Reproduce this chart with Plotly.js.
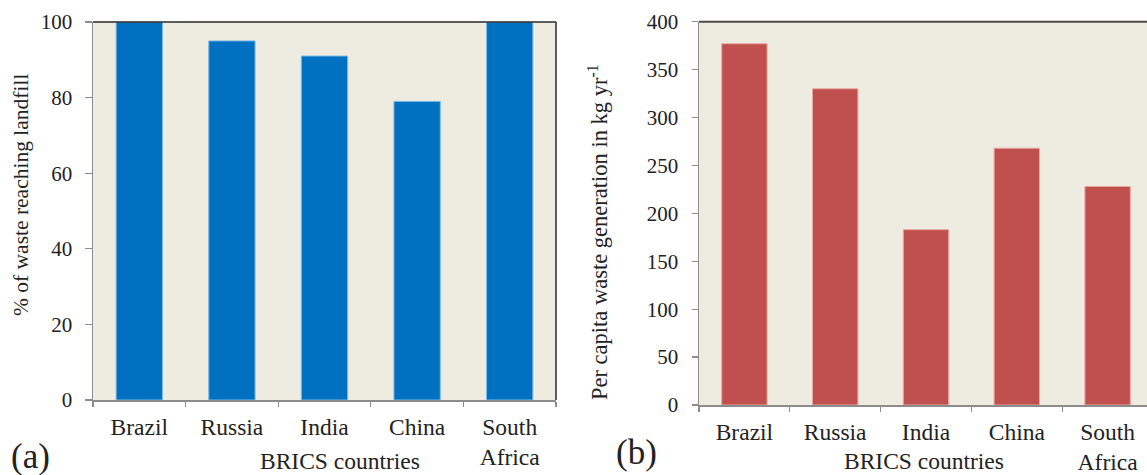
<!DOCTYPE html>
<html>
<head>
<meta charset="utf-8">
<script src="https://cdn.plot.ly/plotly-3.0.1.min.js"></script>
<style>
  html, body { margin: 0; padding: 0; background: #ffffff; overflow: hidden; width: 1147px; height: 475px; }
  #chart { width: 1160px; height: 475px; }
</style>
</head>
<body>
<div id="chart"></div>
<script>
// ---- data ----
const countries = ["Brazil", "Russia", "India", "China", "South Africa"];
const tickLabels = ["Brazil", "Russia", "India", "China", "South<br>Africa"];
const landfillPercent = [100, 95, 91, 79, 100];
const perCapitaWaste = [377, 330, 183, 268, 228];
const yTicksA = [0, 20, 40, 60, 80, 100];
const yTicksB = [0, 50, 100, 150, 200, 250, 300, 350, 400];

// ---- layout helpers ----
const W = 1160, H = 475;
const px = v => v / W;
const py = v => 1 - v / H;
const serif = "'Liberation Serif', 'Times New Roman', serif";
const txt = "#222222";

const traces = [
  {
    type: "bar", x: countries, y: landfillPercent, xaxis: "x", yaxis: "y",
    marker: { color: "#0070C0", line: { color: "#7fb8e6", width: 1 } },
    width: 0.5, hoverinfo: "x+y", showlegend: false
  },
  {
    type: "bar", x: countries, y: perCapitaWaste, xaxis: "x2", yaxis: "y2",
    marker: { color: "#C0504D", line: { color: "#eaa8a2", width: 1 } },
    width: 0.5, hoverinfo: "x+y", showlegend: false
  }
];

const xCommon = {
  type: "category", range: [-0.5, 4.5], ticks: "outside", tickson: "boundaries",
  ticklen: 5, tickcolor: "#8c8c8c", tickwidth: 1.3,
  showline: true, linecolor: "#8c8c8c", linewidth: 1.5,
  showgrid: false, zeroline: false, fixedrange: true,
  tickmode: "array", tickvals: countries, ticktext: tickLabels,
  tickfont: { family: serif, size: 23.5, color: txt }
};
const yCommon = {
  ticks: "outside", ticklen: 7, tickcolor: "#8c8c8c", tickwidth: 1.3,
  showline: true, linecolor: "#8c8c8c", linewidth: 1.5,
  showgrid: false, zeroline: false, fixedrange: true,
  tickfont: { family: serif, size: 21, color: txt },
  tickmode: "array"
};

const layout = {
  width: W, height: H,
  margin: { l: 0, r: 0, t: 0, b: 0, pad: 0 },
  paper_bgcolor: "#ffffff",
  plot_bgcolor: "#EEECE1",
  bargap: 0.5,
  showlegend: false,
  xaxis: Object.assign({}, xCommon, { domain: [px(93), px(556)], anchor: "y", ticklabelstandoff: 5 }),
  yaxis: Object.assign({}, yCommon, { domain: [py(400), py(22)], anchor: "x", range: [0, 100],
    tickvals: yTicksA, ticktext: yTicksA.map(String), ticklabelstandoff: 8 }),
  xaxis2: Object.assign({}, xCommon, { domain: [px(699), px(1153)], anchor: "y2", ticklabelstandoff: 5 }),
  yaxis2: Object.assign({}, yCommon, { domain: [py(405), py(21.7)], anchor: "x2", range: [0, 400], ticklen: 6,
    tickvals: yTicksB, ticktext: yTicksB.map(String), ticklabelstandoff: 9 }),
  shapes: [
    { type: "line", xref: "x domain", yref: "y domain", x0: 0, x1: 1, y0: 1, y1: 1, line: { color: "#2a2a2a", width: 1.5 } },
    { type: "line", xref: "x domain", yref: "y domain", x0: 1, x1: 1, y0: 0, y1: 1, line: { color: "#2a2a2a", width: 1.5 } },
    { type: "line", xref: "x2 domain", yref: "y2 domain", x0: 0, x1: 1, y0: 1, y1: 1, line: { color: "#4a4a4a", width: 2 } },
    { type: "line", xref: "x2 domain", yref: "y2 domain", x0: 1, x1: 1, y0: 0, y1: 1, line: { color: "#4a4a4a", width: 2 } }
  ],
  annotations: [
    { xref: "paper", yref: "paper", x: px(21), y: py(195), xanchor: "center", yanchor: "middle",
      text: "% of waste reaching landfill", textangle: -90, showarrow: false,
      font: { family: serif, size: 21.5, color: txt } },
    { xref: "paper", yref: "paper", x: px(598), y: py(232), xanchor: "center", yanchor: "middle",
      text: "Per capita waste generation in kg yr<sup>-1</sup>", textangle: -90, showarrow: false,
      font: { family: serif, size: 22.5, color: txt } },
    { xref: "paper", yref: "paper", x: px(340), y: py(461), xanchor: "center", yanchor: "middle",
      text: "BRICS countries", showarrow: false, font: { family: serif, size: 23.5, color: txt } },
    { xref: "paper", yref: "paper", x: px(924), y: py(461), xanchor: "center", yanchor: "middle",
      text: "BRICS countries", showarrow: false, font: { family: serif, size: 23.5, color: txt } },
    { xref: "paper", yref: "paper", x: px(30), y: py(456), xanchor: "center", yanchor: "middle",
      text: "(a)", showarrow: false, font: { family: serif, size: 35, color: txt } },
    { xref: "paper", yref: "paper", x: px(636), y: py(452), xanchor: "center", yanchor: "middle",
      text: "(b)", showarrow: false, font: { family: serif, size: 35, color: txt } }
  ]
};

Plotly.newPlot("chart", traces, layout, { displayModeBar: false, staticPlot: true });
</script>
</body>
</html>
